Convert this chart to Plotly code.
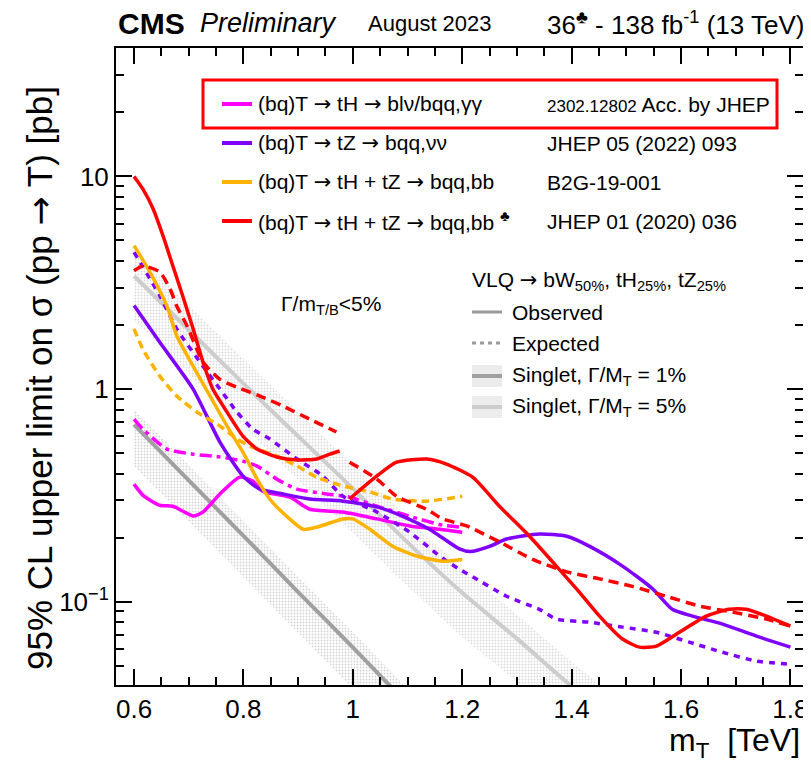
import plotly.graph_objects as go

# ---------------- data ----------------
# Theory: singlet T, Gamma/M = 1%
th1_x = [0.6, 0.7, 0.8, 0.9, 1.0, 1.1]
th1_y = [0.68, 0.372, 0.204, 0.111, 0.061, 0.033]
th1_lo = [0.435, 0.238, 0.13, 0.071, 0.039, 0.021]
th1_hi = [0.80, 0.44, 0.24, 0.131, 0.072, 0.039]
# Theory: singlet T, Gamma/M = 5%
th5_x = [0.6, 0.7, 0.8, 0.9, 1.0, 1.1, 1.2, 1.3, 1.4, 1.5]
th5_y = [3.4, 1.9, 1.06, 0.60, 0.34, 0.19, 0.11, 0.067, 0.040, 0.025]
th5_lo = [2.1, 1.18, 0.66, 0.37, 0.21, 0.118, 0.068, 0.042, 0.025, 0.0155]
th5_hi = [4.4, 2.47, 1.38, 0.78, 0.44, 0.247, 0.143, 0.087, 0.052, 0.0325]

# magenta: (bq)T -> tH -> blv/bqq, gg
mag_obs_x = [0.6, 0.617, 0.647, 0.671, 0.708, 0.726, 0.757, 0.793, 0.817, 0.835, 0.885, 0.921, 0.982, 1.044, 1.104, 1.159, 1.2]
mag_obs_y = [0.357, 0.315, 0.284, 0.281, 0.253, 0.264, 0.321, 0.385, 0.369, 0.331, 0.310, 0.272, 0.264, 0.245, 0.227, 0.219, 0.212]
mag_exp_x = [0.6, 0.616, 0.66, 0.708, 0.757, 0.799, 0.825, 0.861, 0.898, 0.952, 0.994, 1.044, 1.104, 1.164, 1.2]
mag_exp_y = [0.722, 0.648, 0.522, 0.494, 0.479, 0.458, 0.434, 0.377, 0.338, 0.321, 0.310, 0.281, 0.252, 0.229, 0.224]

# purple: (bq)T -> tZ -> bqq, vv
pur_obs_x = [0.6, 0.647, 0.708, 0.757, 0.799, 0.830, 0.872, 0.921, 0.982, 1.044, 1.091, 1.140, 1.195, 1.215, 1.25, 1.281, 1.341, 1.391, 1.433, 1.493, 1.548, 1.584, 1.621, 1.676, 1.738, 1.8]
pur_obs_y = [2.47, 1.66, 1.0, 0.563, 0.390, 0.338, 0.321, 0.304, 0.297, 0.279, 0.252, 0.219, 0.177, 0.172, 0.182, 0.197, 0.208, 0.203, 0.182, 0.147, 0.115, 0.092, 0.0855, 0.0784, 0.0688, 0.0611]
pur_exp_x = [0.6, 0.647, 0.678, 0.726, 0.757, 0.788, 0.817, 0.848, 0.898, 0.945, 0.982, 1.044, 1.104, 1.164, 1.195, 1.219, 1.281, 1.341, 1.372, 1.433, 1.493, 1.555, 1.615, 1.676, 1.738, 1.8]
pur_exp_y = [4.40, 2.75, 1.92, 1.28, 1.0, 0.78, 0.648, 0.582, 0.469, 0.390, 0.313, 0.264, 0.212, 0.160, 0.142, 0.131, 0.106, 0.092, 0.0828, 0.080, 0.0759, 0.0718, 0.0645, 0.0578, 0.0525, 0.0508]

# orange: (bq)T -> tH + tZ -> bqq, bb (B2G-19-001)
ora_obs_x = [0.6, 0.629, 0.66, 0.678, 0.708, 0.739, 0.770, 0.799, 0.825, 0.848, 0.879, 0.909, 0.934, 0.982, 1.0, 1.031, 1.073, 1.117, 1.164, 1.2]
ora_obs_y = [4.73, 3.55, 2.46, 1.78, 1.28, 0.927, 0.670, 0.505, 0.377, 0.304, 0.252, 0.219, 0.224, 0.245, 0.245, 0.219, 0.182, 0.164, 0.155, 0.158]
ora_exp_x = [0.6, 0.616, 0.647, 0.678, 0.715, 0.757, 0.788, 0.812, 0.861, 0.898, 0.934, 0.982, 1.031, 1.073, 1.135, 1.2]
ora_exp_y = [1.92, 1.54, 1.15, 0.927, 0.779, 0.670, 0.582, 0.539, 0.484, 0.434, 0.385, 0.350, 0.328, 0.304, 0.297, 0.313]

# red: (bq)T -> tH + tZ -> bqq, bb (JHEP 01 (2020) 036), low- and high-mass parts
red1_obs_x = [0.6, 0.616, 0.635, 0.653, 0.671, 0.689, 0.708, 0.726, 0.744, 0.770, 0.799, 0.825, 0.861, 0.898, 0.934, 0.958, 0.976]
red1_obs_y = [10, 8.73, 7.03, 5.25, 3.79, 2.74, 1.92, 1.34, 1.0, 0.779, 0.601, 0.522, 0.479, 0.464, 0.469, 0.494, 0.511]
red1_exp_x = [0.6, 0.616, 0.647, 0.666, 0.678, 0.697, 0.726, 0.757, 0.788, 0.830, 0.872, 0.921, 0.970]
red1_exp_y = [3.6, 3.79, 3.55, 2.95, 2.46, 1.98, 1.34, 1.11, 1.02, 0.927, 0.832, 0.722, 0.628]
red2_obs_x = [0.994, 1.044, 1.080, 1.135, 1.17, 1.219, 1.268, 1.323, 1.372, 1.414, 1.451, 1.493, 1.524, 1.555, 1.597, 1.646, 1.688, 1.719, 1.756, 1.8]
red2_obs_y = [0.304, 0.390, 0.453, 0.469, 0.445, 0.385, 0.281, 0.203, 0.147, 0.111, 0.0855, 0.0667, 0.0611, 0.0618, 0.0718, 0.0855, 0.0922, 0.0922, 0.0855, 0.0767]
red2_exp_x = [0.994, 1.044, 1.080, 1.135, 1.164, 1.208, 1.268, 1.329, 1.391, 1.451, 1.511, 1.573, 1.634, 1.694, 1.756, 1.8]
red2_exp_y = [0.453, 0.377, 0.313, 0.272, 0.245, 0.227, 0.191, 0.158, 0.138, 0.128, 0.118, 0.106, 0.0953, 0.0893, 0.0828, 0.0767]

x_major = [0.6, 0.8, 1.0, 1.2, 1.4, 1.6, 1.8]
x_labels = ["0.6", "0.8", "1", "1.2", "1.4", "1.6", "1.8"]
y_major = [0.1, 1, 10]
y_labels = ["10<sup>\u22121</sup>", "1", "10"]

MAG = "#ff00ff"
PUR = "#7f00ff"
ORA = "#ffb300"
RED = "#ff0000"
DARK = "#a0a0a0"
LIGHT = "#cdcdcd"
FONT = "Liberation Sans, Arial, sans-serif"
ARROW = "<span style='font-family:DejaVu Sans'>\u2192</span>"

fig = go.Figure()

def band(x, lo, hi, color):
    fig.add_trace(go.Scatter(
        x=x + x[::-1], y=hi + lo[::-1], mode="lines", fill="toself",
        fillcolor="rgba(0,0,0,0)",
        fillpattern=dict(shape=".", fgcolor=color, bgcolor="rgba(0,0,0,0)", size=3, solidity=0.3),
        line=dict(width=0), hoverinfo="skip", showlegend=False))

def curve(x, y, color, dash="solid", width=3.5):
    fig.add_trace(go.Scatter(
        x=x, y=y, mode="lines", line=dict(color=color, width=width, dash=dash, shape="spline", smoothing=0.6),
        hoverinfo="skip", showlegend=False))

band(th5_x, th5_lo, th5_hi, "#b4b4b4")
band(th1_x, th1_lo, th1_hi, "#a8a8a8")
curve(th5_x, th5_y, LIGHT, width=4)
curve(th1_x, th1_y, DARK, width=4)

curve(mag_obs_x, mag_obs_y, MAG)
curve(mag_exp_x, mag_exp_y, MAG, dash="12px,5px,4px,5px")
curve(pur_exp_x, pur_exp_y, PUR, dash="6px,6px")
curve(pur_obs_x, pur_obs_y, PUR)
curve(ora_exp_x, ora_exp_y, ORA, dash="8px,5px")
curve(ora_obs_x, ora_obs_y, ORA)
curve(red1_exp_x, red1_exp_y, RED, dash="10px,6px")
curve(red2_exp_x, red2_exp_y, RED, dash="10px,6px")
curve(red1_obs_x, red1_obs_y, RED)
curve(red2_obs_x, red2_obs_y, RED)

# ---------------- layout ----------------
# page coordinates of the plot frame (browser body has an 8px margin)
OFF = 8
L, R, T, B = 116, 803, 48, 685
W, H = 811 - OFF, 763 - OFF

def px(xp):
    return (xp - L) / (R - L)

def py(yp):
    return (B - yp) / (B - T)

x_minor = [0.65, 0.7, 0.75, 0.85, 0.9, 0.95, 1.05, 1.1, 1.15, 1.25, 1.3, 1.35, 1.45, 1.5, 1.55, 1.65, 1.7, 1.75]
y_minor = [0.05, 0.06, 0.07, 0.08, 0.09, 0.2, 0.3, 0.4, 0.5, 0.6, 0.7, 0.8, 0.9,
           2, 3, 4, 5, 6, 7, 8, 9, 20, 30, 40]

fig.update_layout(
    width=W, height=H,
    margin=dict(l=L - OFF, r=811 - R, t=T - OFF, b=763 - B, autoexpand=False),
    paper_bgcolor="white", plot_bgcolor="white",
    font=dict(family=FONT, color="black"),
    showlegend=False,
    xaxis=dict(range=[0.567, 1.823], showgrid=False, zeroline=False, automargin=False,
               showline=True, linecolor="black", linewidth=2, mirror="ticks",
               ticks="inside", ticklen=16, tickwidth=1.5, tickcolor="black",
               tickmode="array", tickvals=x_major, ticktext=x_labels,
               tickfont=dict(size=26, family=FONT),
               minor=dict(tickmode="array", tickvals=x_minor, ticks="inside", ticklen=8, tickwidth=1.5, tickcolor="black", showgrid=False)),
    yaxis=dict(type="log", range=[-1.392, 1.604], showgrid=False, zeroline=False, automargin=False,
               showline=True, linecolor="black", linewidth=2, mirror="ticks",
               ticks="inside", ticklen=16, tickwidth=1.5, tickcolor="black",
               tickmode="array", tickvals=y_major, ticktext=y_labels,
               tickfont=dict(size=26, family=FONT),
               minor=dict(tickmode="array", tickvals=y_minor, ticks="inside", ticklen=8, tickwidth=1.5, tickcolor="black", showgrid=False)),
)

ann = []
def text(xp, yp, s, size, xanchor="left", yanchor="middle", **kw):
    ann.append(dict(x=px(xp), y=py(yp), xref="paper", yref="paper", text=s, showarrow=False,
                    xanchor=xanchor, yanchor=yanchor, font=dict(size=size, family=FONT, color="black"), **kw))

# header
text(116, 23, "<b>CMS</b>", 30)
text(198, 23, "<i>Preliminary</i>", 27)
text(366, 24, "August 2023", 22)
text(806, 23, "36<sup>\u2663</sup> - 138 fb<sup>-1</sup> (13 TeV)", 26, xanchor="right")

# axis titles
text(40, 84, "95% CL upper limit on \u03c3 (pp " + ARROW + " T) [pb]", 35, xanchor="center", yanchor="top", textangle=-90)
text(802, 742, "m<sub>T</sub>  [TeV]", 32, xanchor="right")

# legend 1
rows = [104, 143, 182, 221]
labels = ["(bq)T " + ARROW + " tH " + ARROW + " bl\u03bd/bqq,\u03b3\u03b3",
          "(bq)T " + ARROW + " tZ " + ARROW + " bqq,\u03bd\u03bd",
          "(bq)T " + ARROW + " tH + tZ " + ARROW + " bqq,bb",
          "(bq)T " + ARROW + " tH + tZ " + ARROW + " bqq,bb <sup>\u2663</sup>"]
refs = ["<span style='font-size:17px'>2302.12802</span> Acc. by JHEP",
        "JHEP 05 (2022) 093", "B2G-19-001", "JHEP 01 (2020) 036"]
cols = [MAG, PUR, ORA, RED]
shapes = []
for yy, lab, ref, c in zip(rows, labels, refs, cols):
    shapes.append(dict(type="line", xref="paper", yref="paper", x0=px(222), x1=px(252), y0=py(yy), y1=py(yy),
                       line=dict(color=c, width=4)))
    text(256, yy, lab, 21)
    text(545, yy, ref, 21)
shapes.append(dict(type="rect", xref="paper", yref="paper", x0=px(203), x1=px(777), y0=py(80), y1=py(128),
                   line=dict(color=RED, width=3)))

# legend 2
text(470, 281, "VLQ " + ARROW + " bW<sub>50%</sub>, tH<sub>25%</sub>, tZ<sub>25%</sub>", 21)
text(510, 312, "Observed", 21)
text(510, 343, "Expected", 21)
text(510, 376, "Singlet, \u0393/M<sub>T</sub> = 1%", 21)
text(510, 407, "Singlet, \u0393/M<sub>T</sub> = 5%", 21)
shapes.append(dict(type="line", xref="paper", yref="paper", x0=px(472), x1=px(502), y0=py(312), y1=py(312),
                   line=dict(color="#999999", width=3)))
shapes.append(dict(type="line", xref="paper", yref="paper", x0=px(472), x1=px(502), y0=py(343), y1=py(343),
                   line=dict(color="#999999", width=3, dash="4px,4px")))
for yy, lc in [(376, DARK), (407, LIGHT)]:
    shapes.append(dict(type="rect", xref="paper", yref="paper", x0=px(472), x1=px(502), y0=py(yy + 11), y1=py(yy - 11),
                       line=dict(width=0), fillcolor="rgba(200,200,200,0.35)", layer="below"))
    shapes.append(dict(type="line", xref="paper", yref="paper", x0=px(472), x1=px(502), y0=py(yy), y1=py(yy),
                       line=dict(color=lc, width=4)))
text(279, 305, "\u0393/m<sub>T/B</sub>&lt;5%", 21)

fig.update_layout(annotations=ann, shapes=shapes)

fig.write_html("out.html")
